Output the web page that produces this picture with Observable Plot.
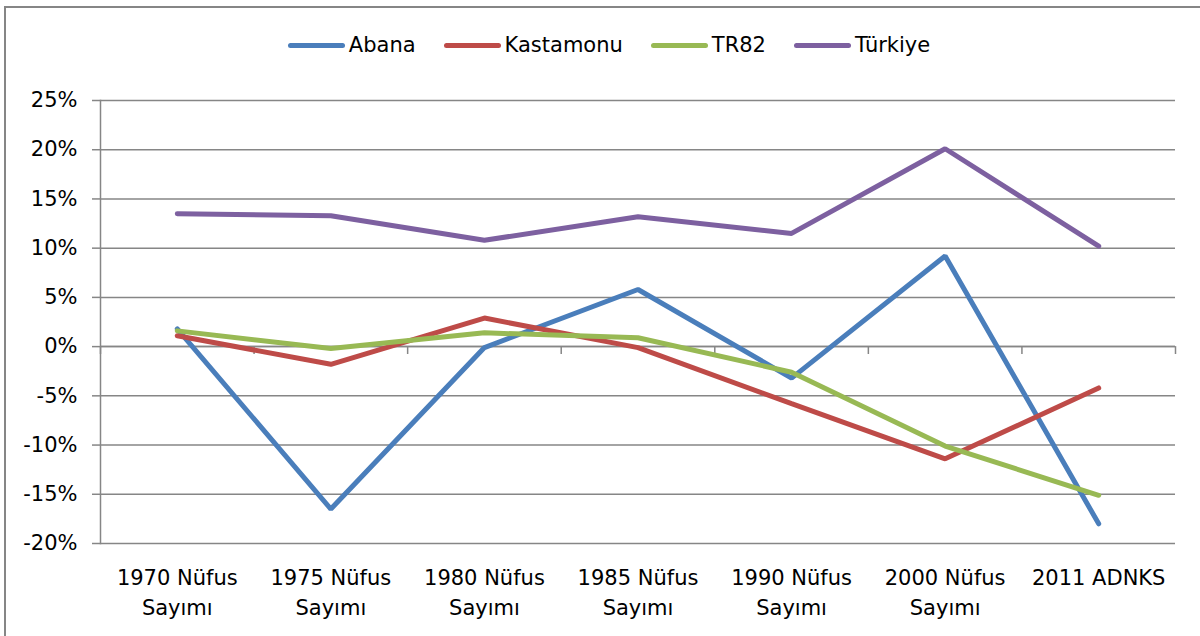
<!DOCTYPE html>
<html>
<head>
<meta charset="utf-8">
<script src="https://cdn.jsdelivr.net/npm/d3@7"></script>
<script src="https://cdn.jsdelivr.net/npm/@observablehq/plot@0.6"></script>
<style>
  html, body { margin: 0; padding: 0; background: #fff; overflow: hidden; }
  #wrap { position: relative; width: 1200px; height: 636px; font-family: "DejaVu Sans", sans-serif; }
  #frame { position: absolute; left: 4px; top: 6px; width: 1400px; height: 800px;
           border-left: 2px solid #868686; border-top: 2px solid #868686; pointer-events: none; }
  #legend { box-sizing: border-box; height: 80px; padding-top: 10px; margin-left: 18px;
            display: flex; justify-content: center; align-items: center; font-size: 21px; color: #000; }
  .item { display: flex; align-items: center; margin: 0 14px; }
  .sw { width: 57px; height: 5px; border-radius: 3px; margin-right: 4px; }
  svg { display: block; }
</style>
</head>
<body>
<div id="wrap">
  <div id="frame"></div>
  <div id="legend"></div>
  <div id="chart"></div>
</div>
<script>
const categories = ["1970 Nüfus\nSayımı", "1975 Nüfus\nSayımı", "1980 Nüfus\nSayımı", "1985 Nüfus\nSayımı", "1990 Nüfus\nSayımı", "2000 Nüfus\nSayımı", "2011 ADNKS"];
const seriesNames = ["Abana", "Kastamonu", "TR82", "Türkiye"];
const abana     = [1.8, -16.5, -0.1, 5.8, -3.2, 9.2, -18.0];
const kastamonu = [1.1, -1.8, 2.9, -0.1, -5.8, -11.4, -4.2];
const tr82      = [1.6, -0.2, 1.4, 0.9, -2.6, -10.1, -15.1];
const turkiye   = [13.5, 13.3, 10.8, 13.2, 11.5, 20.1, 10.2];
const yTicks = [-20, -15, -10, -5, 0, 5, 10, 15, 20, 25];
const colors = ["#4A7EBB", "#BE4B48", "#98B954", "#7D60A0"];

const seriesValues = [abana, kastamonu, tr82, turkiye];
const rows = seriesNames.flatMap((s, k) => seriesValues[k].map((v, i) => ({series: s, i, value: v})));
const idx = categories.map((_, i) => i);
const bounds = [-0.5, ...categories.map((_, i) => i + 0.5)];

const legend = document.getElementById("legend");
seriesNames.forEach((s, k) => {
  const it = document.createElement("div");
  it.className = "item";
  it.innerHTML = `<span class="sw" style="background:${colors[k]}"></span><span>${s}</span>`;
  legend.appendChild(it);
});

const gridColor = "#868686";
const chart = Plot.plot({
  width: 1200,
  height: 556,
  marginTop: 20,
  marginBottom: 93,
  marginLeft: 100,
  marginRight: 25,
  style: {fontFamily: "DejaVu Sans, sans-serif", fontSize: "21px", color: "#000", background: "transparent", overflow: "visible"},
  x: {type: "linear", domain: [-0.5, categories.length - 0.5]},
  y: {domain: [-20, 25]},
  color: {domain: seriesNames, range: colors},
  marks: [
    Plot.gridY(yTicks, {stroke: gridColor, strokeOpacity: 1, strokeWidth: 1.5}),
    Plot.axisY(yTicks, {tickSize: 8, tickPadding: 15, tickFormat: d => d + "%", stroke: gridColor, strokeWidth: 1.5, label: null}),
    Plot.frame({anchor: "left", stroke: gridColor, strokeWidth: 1.5}),
    Plot.ruleY([0], {stroke: gridColor, strokeWidth: 1.5}),
    Plot.ruleX(bounds, {x: d => d, y1: 0, y2: -0.8, stroke: gridColor, strokeWidth: 1.5}),
    Plot.axisX(idx, {tickSize: 0, tickPadding: 21, tickFormat: i => categories[i], lineHeight: 1.4, label: null}),
    Plot.line(rows, {x: "i", y: "value", z: "series", stroke: "series", strokeWidth: 5, strokeLinejoin: "miter", strokeLinecap: "round"})
  ]
});
document.getElementById("chart").appendChild(chart);
</script>
</body>
</html>
